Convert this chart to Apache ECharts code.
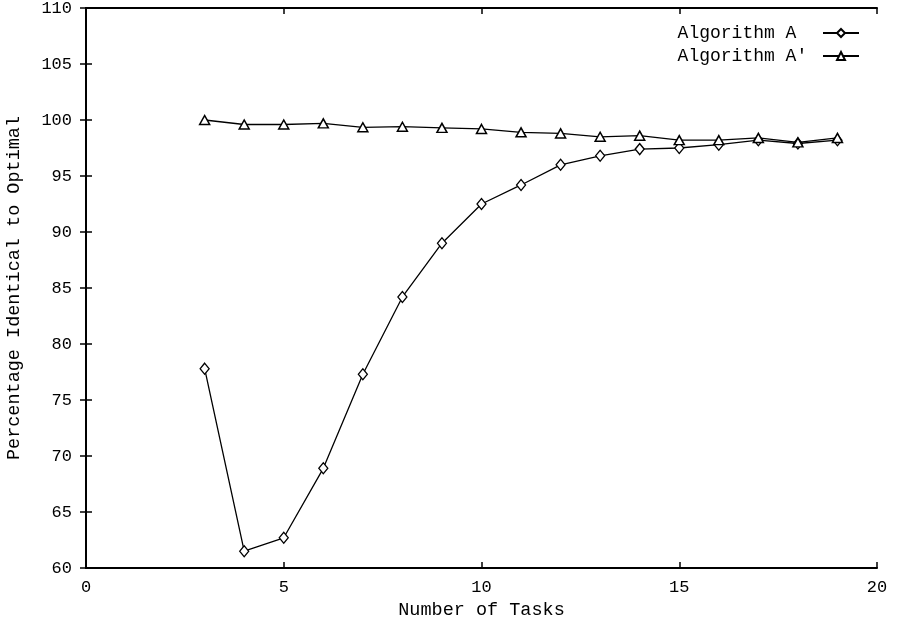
<!DOCTYPE html>
<html>
<head>
<meta charset="utf-8">
<script src="https://cdn.jsdelivr.net/npm/echarts@6/dist/echarts.min.js"></script>
<style>
  html, body { margin: 0; padding: 0; background: #fff; }
  #chart { width: 898px; height: 621px; }
</style>
</head>
<body>
<div id="chart"></div>
<script>
// number of tasks
const tasks = [3, 4, 5, 6, 7, 8, 9, 10, 11, 12, 13, 14, 15, 16, 17, 18, 19];
// percentage identical to optimal
const algA = [77.8, 61.5, 62.7, 68.9, 77.3, 84.2, 89.0, 92.5, 94.2, 96.0, 96.8, 97.4, 97.5, 97.8, 98.2, 97.9, 98.2];
const algA2 = [100.0, 99.6, 99.6, 99.7, 99.35, 99.4, 99.3, 99.2, 98.9, 98.8, 98.5, 98.6, 98.2, 98.2, 98.4, 98.0, 98.4];

const font = "Liberation Mono";
const pair = (ys) => tasks.map((x, i) => [x, ys[i]]);

const frameLine = { show: true, lineStyle: { color: "#000", width: 2 } };
const tick = { show: true, inside: true, length: 6, lineStyle: { color: "#000", width: 1.5 } };

let myChart = echarts.init(document.getElementById("chart"));
let option = {
  animation: false,
  backgroundColor: "#fff",
  grid: { left: 86, right: 21, top: 8, bottom: 53, outerBoundsMode: "none" },
  legend: {
    orient: "vertical",
    right: 33,
    top: 19,
    align: "right",
    itemWidth: 36,
    itemHeight: 10,
    itemGap: 5,
    // pad so both labels start at the same x (monospace)
    formatter: (name) => (name === "Algorithm A" ? name + "\u00a0\u00a0" : name + "\u00a0"),
    textStyle: { fontFamily: font, fontSize: 18, color: "#000" },
    data: ["Algorithm A", "Algorithm A\u2032"],
  },
  xAxis: [
    {
      type: "value",
      min: 0,
      max: 20,
      interval: 5,
      name: "Number of Tasks",
      nameLocation: "middle",
      nameGap: 31,
      nameTextStyle: { fontFamily: font, fontSize: 18.5, color: "#000" },
      axisLine: frameLine,
      axisTick: tick,
      axisLabel: { fontFamily: font, fontSize: 17, color: "#000", margin: 11 },
      splitLine: { show: false },
    },
    {
      type: "value",
      position: "top",
      min: 0,
      max: 20,
      interval: 5,
      axisLine: frameLine,
      axisTick: tick,
      axisLabel: { show: false },
      splitLine: { show: false },
    },
  ],
  yAxis: [
    {
      type: "value",
      min: 60,
      max: 110,
      interval: 5,
      name: "Percentage Identical to Optimal",
      nameLocation: "middle",
      nameGap: 62,
      nameTextStyle: { fontFamily: font, fontSize: 18.5, color: "#000" },
      axisLine: frameLine,
      axisTick: tick,
      axisLabel: { fontFamily: font, fontSize: 17, color: "#000", margin: 14 },
      splitLine: { show: false },
    },
    {
      type: "value",
      position: "right",
      min: 60,
      max: 110,
      interval: 5,
      axisLine: frameLine,
      axisTick: tick,
      axisLabel: { show: false },
      splitLine: { show: false },
    },
  ],
  series: [
    {
      name: "Algorithm A",
      type: "line",
      data: pair(algA),
      symbol: "diamond",
      symbolSize: [9, 11],
      showAllSymbol: true,
      lineStyle: { color: "#000", width: 1.3 },
      itemStyle: { color: "#fff", borderColor: "#000", borderWidth: 1.3 },
    },
    {
      name: "Algorithm A\u2032",
      type: "line",
      data: pair(algA2),
      symbol: "triangle",
      symbolSize: [10, 9],
      showAllSymbol: true,
      lineStyle: { color: "#000", width: 1.3 },
      itemStyle: { color: "#fff", borderColor: "#000", borderWidth: 1.5 },
    },
  ],
};
myChart.setOption(option);
</script>
</body>
</html>
